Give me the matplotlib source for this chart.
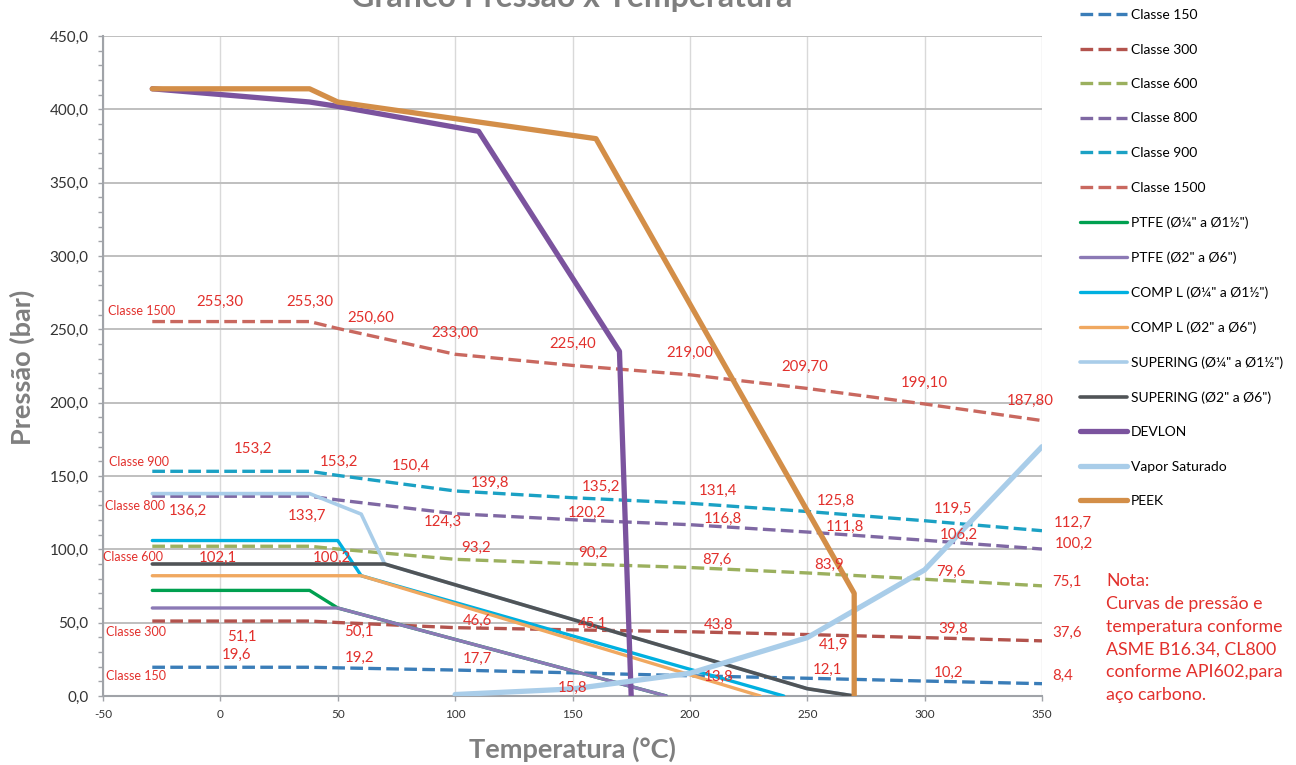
import matplotlib
matplotlib.use("Agg")
import matplotlib.pyplot as plt
from matplotlib.ticker import MultipleLocator, FuncFormatter

plt.rcParams['font.family'] = ['Lato', 'DejaVu Sans']

# ASME B16.34 pressure classes (bar) vs temperature (°C)
temps_asme = [-29, 38, 50, 100, 150, 200, 250, 300, 350]
classe_150 = [19.6, 19.6, 19.2, 17.7, 15.8, 13.8, 12.1, 10.2, 8.4]
classe_300 = [51.1, 51.1, 50.1, 46.6, 45.1, 43.8, 41.9, 39.8, 37.6]
classe_600 = [102.1, 102.1, 100.2, 93.2, 90.2, 87.6, 83.9, 79.6, 75.1]
classe_800 = [136.2, 136.2, 133.7, 124.3, 120.2, 116.8, 111.8, 106.2, 100.2]
classe_900 = [153.2, 153.2, 150.4, 139.8, 135.2, 131.4, 125.8, 119.5, 112.7]
classe_1500 = [255.3, 255.3, 250.6, 233.0, 225.4, 219.0, 209.7, 199.1, 187.8]

# seat materials
ptfe_small_t = [-29, 38, 50, 190]
ptfe_small_p = [72, 72, 60, 0]
ptfe_big_t = [-29, 50, 190]
ptfe_big_p = [60, 60, 0]
compl_small_t = [-29, 50, 60, 240]
compl_small_p = [106, 106, 82, 0]
compl_big_t = [-29, 60, 230]
compl_big_p = [82, 82, 0]
super_small_t = [-29, 38, 60, 70, 250, 270]
super_small_p = [138, 138, 124, 90, 5, 0]
super_big_t = [-29, 70, 250, 270]
super_big_p = [90, 90, 5, 0]
devlon_t = [-29, 38, 50, 110, 170, 175]
devlon_p = [414, 405, 402, 385, 235, 0]
vapor_t = [100, 150, 200, 250, 300, 350]
vapor_p = [1.0, 4.8, 15.5, 39.8, 86.0, 170.0]
peek_t = [-29, 38, 50, 160, 270, 270]
peek_p = [414, 414, 405, 380, 70, 0]

# where the value labels sit (data coords), layout only
lbl_1500 = [(0, 269), (38, 269), (64, 258), (100, 247.5), (150, 240),
            (200, 234), (249, 224.5), (300, 213.5), (345, 201)]
lbl_900 = [(14, 168.5), (50.5, 159.5), (81, 157), (115, 145), (162, 142.5),
           (212, 140), (262, 133), (312, 127.5), (363, 118)]
lbl_800 = [(-14, 126), (37, 122.7), (95, 118.6), (156, 124.8), (214, 120.7),
           (266, 115.2), (314.6, 109.8), (363.6, 103.6)]
lbl_600 = [(-1, 94), (47.6, 94), (109, 101), (158.7, 97.5), (211.6, 92.7),
           (259.3, 89.3), (311.2, 84.5), (360.7, 77.7)]
lbl_300 = [(9.2, 40.2), (59.1, 43.6), (109.3, 51.1), (158.7, 49.1), (212.4, 48.4),
           (261, 34.8), (312.1, 45.7), (360.7, 43)]
lbl_150 = [(6.7, 28), (59.1, 25.9), (109.7, 25.2), (150.2, 5.5), (212.4, 13),
           (258.8, 17.7), (310, 15.7), (358.9, 13.6)]

RED = '#E2302C'
GRAY = '#7F7F7F'

fig = plt.figure(figsize=(12.96, 7.65), dpi=100)
ax = fig.add_axes([103 / 1296, 69 / 765, 939 / 1296, 660 / 765])

dash = dict(linestyle=(0, (3.8, 1.6)), linewidth=2.4, dash_capstyle='butt')
classes = [
    ('Classe 150', classe_150, '#3A7DB8'),
    ('Classe 300', classe_300, '#B3534D'),
    ('Classe 600', classe_600, '#9BB05E'),
    ('Classe 800', classe_800, '#7F68A3'),
    ('Classe 900', classe_900, '#1BA1C4'),
    ('Classe 1500', classe_1500, '#C9685F'),
]
for name, vals, col in classes:
    ax.plot(temps_asme, vals, color=col, label=name, zorder=3, **dash)

materials = [
    ('PTFE (Ø¼" a Ø1½")', ptfe_small_t, ptfe_small_p, '#00A050', 2.4),
    ('PTFE (Ø2" a Ø6")', ptfe_big_t, ptfe_big_p, '#8B79B5', 2.4),
    ('COMP L (Ø¼" a Ø1½")', compl_small_t, compl_small_p, '#00B0E0', 2.4),
    ('COMP L (Ø2" a Ø6")', compl_big_t, compl_big_p, '#F0A860', 2.4),
    ('SUPERING (Ø¼" a Ø1½")', super_small_t, super_small_p, '#A9CDE9', 2.6),
    ('SUPERING (Ø2" a Ø6")', super_big_t, super_big_p, '#505457', 2.6),
    ('DEVLON', devlon_t, devlon_p, '#7B539E', 3.8),
    ('Vapor Saturado', vapor_t, vapor_p, '#A9CDE9', 3.8),
    ('PEEK', peek_t, peek_p, '#D38E48', 3.8),
]
for name, t, p, col, lw in materials:
    ax.plot(t, p, color=col, linewidth=lw, label=name, zorder=4,
            solid_capstyle='round', solid_joinstyle='round')

# value labels
lab_sets = [
    (classe_1500, lbl_1500, '{:.2f}'),
    (classe_900, lbl_900, '{:.1f}'),
    (classe_800[1:], lbl_800, '{:.1f}'),
    (classe_600[1:], lbl_600, '{:.1f}'),
    (classe_300[1:], lbl_300, '{:.1f}'),
    (classe_150[1:], lbl_150, '{:.1f}'),
]
for vals, pos, fmt in lab_sets:
    for v, (lx, ly) in zip(vals, pos):
        ax.text(lx, ly, fmt.format(v).replace('.', ','), color=RED, fontsize=10.8,
                ha='center', va='center', zorder=6, clip_on=False)

# class names at the start of each line
class_tags = [('Classe 1500', -33.5, 262.5), ('Classe 900', -34.7, 159.5),
              ('Classe 800', -36.4, 129.5), ('Classe 600', -37.2, 94.8),
              ('Classe 300', -35.9, 43.6), ('Classe 150', -35.9, 13.6)]
for txt, lx, ly in class_tags:
    ax.text(lx, ly, txt, color=RED, fontsize=9, ha='center', va='center', zorder=6)

ax.set_xlim(-50, 350)
ax.set_ylim(0, 450)
ax.xaxis.set_major_locator(MultipleLocator(50))
ax.yaxis.set_major_locator(MultipleLocator(50))
ax.yaxis.set_minor_locator(MultipleLocator(10))
ax.yaxis.set_major_formatter(FuncFormatter(lambda v, _: f'{v:.1f}'.replace('.', ',')))
ax.xaxis.set_major_formatter(FuncFormatter(lambda v, _: f'{int(v)}'))

ax.grid(axis='x', color='#D9D9D9', linewidth=1.0, zorder=0)
ax.grid(axis='y', color='#BFBFBF', linewidth=1.4, zorder=0)
ax.set_axisbelow(True)
for s in ['top', 'right']:
    ax.spines[s].set_visible(False)
for s in ['left', 'bottom']:
    ax.spines[s].set_color('#A0A3A8')
    ax.spines[s].set_linewidth(1.5)

ax.tick_params(axis='y', which='both', direction='out', length=3.5, width=1,
               color='#A0A3A8', labelsize=11, labelcolor='#333333', pad=7)
ax.tick_params(axis='x', direction='out', length=3.5, width=1, color='#A0A3A8',
               labelsize=8.5, labelcolor='#333333', pad=6)

fig.text(572 / 1296, 1 - 7 / 765, 'Gráfico Pressão x Temperatura', fontsize=23,
         fontweight='bold', color=GRAY, ha='center', va='baseline')
fig.text(572 / 1296, 1 - 749 / 765, 'Temperatura (°C)', fontsize=19.5,
         fontweight='bold', color=GRAY, ha='center', va='center')
fig.text(22 / 1296, 1 - 367 / 765, 'Pressão (bar)', fontsize=19.5,
         fontweight='bold', color=GRAY, ha='center', va='center', rotation=90)

fig.text(1106 / 1296, 1 - 573 / 765,
         'Nota:\nCurvas de pressão e\ntemperatura conforme\nASME B16.34, CL800\n'
         'conforme API602,para\naço carbono.',
         fontsize=12.8, color=RED, ha='left', va='top', linespacing=1.52)

fig.legend(loc='upper left', bbox_to_anchor=(1080 / 1296, 1 - 9 / 765),
           frameon=False, fontsize=10, handlelength=3.4, handletextpad=0.25,
           labelspacing=1.62, borderpad=0, borderaxespad=0)

fig.savefig('out.png', dpi=100)
